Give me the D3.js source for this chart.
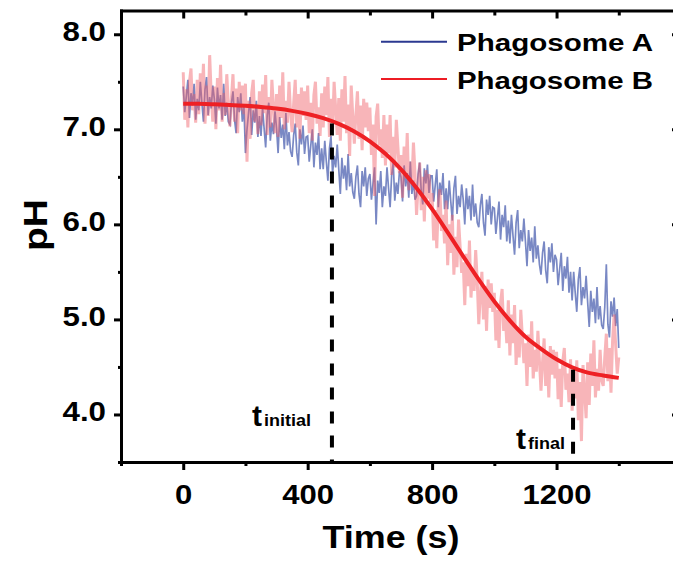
<!DOCTYPE html>
<html>
<head>
<meta charset="utf-8">
<script src="https://cdn.jsdelivr.net/npm/d3@7"></script>
<style>
  body { margin: 0; background: #fff; }
  svg text { font-family: "Liberation Sans", Arial, sans-serif; font-weight: bold; fill: #000; }
</style>
</head>
<body>
<svg id="chart"></svg>
<script>
// sample times (s), every 5 s
const sampleTimes = d3.range(0, 1405, 5);

// Phagosome A, raw pH trace
const phagoA = [
  7.45, 7.18, 7.35, 7.52, 7.12, 7.38, 7.25, 7.48, 7.10, 7.32,
  7.20, 7.50, 7.28, 7.08, 7.42, 7.55, 7.15, 7.34, 7.22, 7.46,
  7.32, 7.06, 7.44, 7.22, 7.36, 7.10, 7.48, 7.14, 7.28, 7.08,
  7.05, 7.28, 7.40, 7.10, 6.96, 7.34, 7.18, 7.38, 7.08, 7.26,
  6.75, 7.00, 7.17, 7.34, 6.94, 7.20, 7.07, 7.30, 6.92, 7.14,
  6.93, 7.23, 7.01, 6.81, 7.15, 7.28, 6.88, 7.07, 6.95, 7.19,
  7.01, 6.75, 7.13, 6.91, 7.05, 6.79, 7.17, 6.83, 6.97, 6.77,
  6.71, 6.94, 7.06, 6.76, 6.62, 7.00, 6.84, 7.04, 6.74, 6.92,
  6.93, 6.66, 6.83, 7.00, 6.60, 6.86, 6.73, 6.96, 6.58, 6.80,
  6.58, 6.88, 6.66, 6.46, 6.80, 6.93, 6.53, 6.72, 6.60, 6.84,
  6.58, 6.32, 6.70, 6.48, 6.62, 6.36, 6.74, 6.40, 6.54, 6.34,
  6.27, 6.50, 6.62, 6.32, 6.18, 6.56, 6.40, 6.60, 6.30, 6.48,
  6.53, 6.26, 6.43, 6.60, 6.00, 6.46, 6.33, 6.56, 6.18, 6.40,
  6.30, 6.60, 6.38, 6.18, 6.52, 6.65, 6.25, 6.44, 6.32, 6.56,
  6.50, 6.24, 6.62, 6.40, 6.54, 6.28, 6.66, 6.32, 6.46, 6.26,
  6.30, 6.53, 6.65, 6.35, 6.21, 6.59, 6.43, 6.63, 6.33, 6.51,
  6.51, 6.24, 6.41, 6.58, 6.18, 6.44, 6.31, 6.54, 6.16, 6.38,
  6.16, 6.46, 6.24, 6.04, 6.38, 6.51, 6.11, 6.30, 6.18, 6.42,
  6.26, 6.00, 6.38, 6.16, 6.30, 6.04, 6.42, 6.08, 6.22, 6.02,
  5.97, 6.20, 6.32, 6.02, 5.88, 6.26, 6.10, 6.30, 6.00, 6.18,
  6.17, 5.90, 6.07, 6.24, 5.84, 6.10, 5.97, 6.20, 5.82, 6.04,
  5.80, 6.10, 5.88, 5.68, 6.02, 6.15, 5.75, 5.94, 5.82, 6.06,
  5.82, 5.56, 5.94, 5.72, 5.86, 5.60, 5.98, 5.64, 5.78, 5.58,
  5.47, 5.70, 5.82, 5.52, 5.38, 5.76, 5.60, 5.80, 5.50, 5.68,
  5.63, 5.36, 5.53, 5.70, 5.30, 5.56, 5.43, 5.66, 5.28, 5.50,
  5.20, 5.50, 5.28, 5.08, 5.42, 5.55, 5.15, 5.34, 5.22, 5.46,
  5.18, 4.92, 5.30, 5.08, 5.22, 4.96, 5.34, 5.00, 5.14, 4.94,
  4.90, 5.13, 5.58, 4.95, 4.81, 5.19, 5.03, 5.23, 4.93, 5.11,
  4.70
];

// Phagosome B, raw pH trace
const phagoB = [
  7.60, 7.10, 7.42, 7.02, 7.50, 7.64, 7.20, 7.37, 7.07, 7.52,
  7.16, 7.59, 7.29, 7.69, 7.06, 7.46, 7.14, 7.78, 7.36, 7.08,
  7.45, 7.00, 7.54, 7.20, 7.68, 7.08, 7.38, 7.15, 7.58, 7.26,
  7.03, 7.33, 7.58, 7.08, 7.43, 6.96, 7.50, 7.20, 7.46, 7.16,
  7.48, 6.66, 7.30, 6.90, 7.38, 7.52, 7.08, 7.25, 6.95, 7.40,
  7.04, 7.47, 7.17, 7.57, 6.94, 7.34, 7.02, 7.52, 7.24, 6.96,
  7.37, 6.92, 7.46, 7.12, 7.60, 7.00, 7.30, 7.07, 7.50, 7.18,
  6.97, 7.27, 7.52, 7.02, 7.37, 6.90, 7.44, 7.14, 7.40, 7.10,
  7.46, 6.96, 7.28, 6.88, 7.36, 7.50, 7.06, 7.23, 6.93, 7.38,
  7.02, 7.45, 7.15, 7.55, 6.92, 7.32, 7.00, 7.50, 7.22, 6.94,
  7.33, 6.88, 7.42, 7.08, 7.56, 6.96, 7.26, 6.72, 7.46, 7.14,
  6.85, 7.15, 7.40, 6.90, 7.25, 6.78, 7.32, 7.02, 7.28, 6.98,
  7.23, 6.73, 7.05, 6.30, 7.13, 7.27, 6.83, 7.00, 6.70, 7.15,
  6.62, 7.05, 6.75, 7.15, 6.52, 6.92, 6.60, 7.10, 6.82, 6.54,
  6.73, 6.28, 6.82, 6.48, 6.96, 6.36, 6.66, 6.43, 6.86, 6.54,
  6.10, 6.40, 6.65, 6.15, 6.50, 6.03, 6.57, 6.27, 6.53, 6.23,
  6.33, 5.83, 6.15, 5.75, 6.23, 6.37, 5.93, 6.10, 5.80, 6.25,
  5.57, 6.00, 5.70, 6.10, 5.47, 5.87, 5.55, 6.05, 5.77, 5.49,
  5.60, 5.15, 5.69, 5.35, 5.83, 5.23, 5.53, 5.30, 5.73, 5.41,
  4.95, 5.25, 5.50, 5.00, 5.35, 4.88, 5.42, 5.12, 5.38, 5.08,
  5.28, 4.78, 5.10, 4.70, 5.18, 5.32, 4.88, 5.05, 4.75, 5.20,
  4.62, 5.05, 4.75, 5.15, 4.52, 4.92, 4.60, 5.10, 4.82, 4.54,
  4.75, 4.30, 4.84, 4.50, 4.98, 4.38, 4.68, 4.45, 4.88, 4.56,
  4.25, 4.55, 4.80, 4.30, 4.65, 4.18, 4.72, 4.42, 4.68, 4.38,
  4.66, 4.16, 4.48, 4.08, 4.56, 4.70, 4.26, 4.43, 4.13, 4.58,
  4.04, 4.47, 4.17, 4.57, 3.94, 4.34, 3.72, 4.52, 4.24, 3.96,
  4.55, 4.10, 4.64, 4.30, 4.78, 4.18, 4.48, 4.25, 4.68, 4.36,
  4.30, 4.60, 4.85, 4.35, 4.70, 4.23, 4.77, 5.05, 4.73, 4.43,
  4.60
];

// fitted curve for Phagosome B, every 50 s
const fitTimes = d3.range(0, 1450, 50);
const fitB = [
  7.27, 7.268, 7.263, 7.257, 7.248, 7.235, 7.218, 7.194, 7.161, 7.117,
  7.057, 6.978, 6.874, 6.742, 6.579, 6.383, 6.160, 5.916, 5.664, 5.418,
  5.189, 4.988, 4.818, 4.690, 4.580, 4.495, 4.440, 4.410, 4.385
];

const tInitial = 478;
const tFinal = 1253;

const xMajor = [0, 400, 800, 1200];
const xMinor = [-200, 200, 600, 1000, 1400];
const yMajor = [4, 5, 6, 7, 8];
const yMinor = [3.5, 4.5, 5.5, 6.5, 7.5];

const seriesNames = ["Phagosome A", "Phagosome B"];

const width = 673;
const height = 565;

const svg = d3.select("#chart").attr("width", width).attr("height", height);

const x = d3.scaleLinear().domain([-200, 1600]).range([121, 681]);
const y = d3.scaleLinear().domain([3.5, 8.25]).range([462, 10.5]);

const rawLine = (vals) =>
  d3.line()
    .x((d, i) => x(sampleTimes[i]))
    .y((d) => y(d))(vals);

// raw traces
svg.append("path")
  .attr("d", rawLine(phagoA))
  .attr("fill", "none")
  .attr("stroke", "#3a50a8")
  .attr("stroke-opacity", 0.68)
  .attr("stroke-width", 1.7);

svg.append("path")
  .attr("d", rawLine(phagoB))
  .attr("fill", "none")
  .attr("stroke", "#f05a64")
  .attr("stroke-opacity", 0.45)
  .attr("stroke-width", 3);

// fit
svg.append("path")
  .attr("d", d3.line()
    .x((d, i) => x(fitTimes[i]))
    .y((d) => y(d))
    .curve(d3.curveMonotoneX)(fitB))
  .attr("fill", "none")
  .attr("stroke", "#ee2024")
  .attr("stroke-width", 4);

// dashed markers
const fitAt = (t) => {
  const i = d3.bisectLeft(fitTimes, t);
  const t0 = fitTimes[i - 1], t1 = fitTimes[i];
  return fitB[i - 1] + (fitB[i] - fitB[i - 1]) * (t - t0) / (t1 - t0);
};
[tInitial, tFinal].forEach((t) => {
  svg.append("line")
    .attr("x1", x(t)).attr("x2", x(t))
    .attr("y1", y(fitAt(t)) + 2).attr("y2", y(3.5))
    .attr("stroke", "#000")
    .attr("stroke-width", 4)
    .attr("stroke-dasharray", "12,12");
});

// annotations
function tLabel(xs, base, sub, subLen) {
  svg.append("text").attr("x", xs).attr("y", base)
    .attr("font-size", 30).text("t");
  svg.append("text").attr("x", xs + 12).attr("y", base)
    .attr("font-size", 16)
    .attr("textLength", subLen).attr("lengthAdjust", "spacingAndGlyphs")
    .text(sub);
}
tLabel(252, 426, "initial", 47);
tLabel(516, 449, "final", 37);

// axes
function styleAxis(g) {
  g.select(".domain").attr("stroke-width", 3).attr("stroke-linecap", "square");
  g.selectAll(".tick line").attr("stroke-width", 3);
}

const gx = svg.append("g").attr("transform", `translate(0,${y(3.5)})`)
  .call(d3.axisBottom(x).tickValues(xMajor).tickSize(8).tickSizeOuter(0)
    .tickFormat(d3.format("d")));
styleAxis(gx);
gx.selectAll(".tick text")
  .attr("y", 42).attr("dy", null)
  .attr("font-size", 27)
  .attr("transform", "scale(1.15,1)")
  .style("font-family", '"Liberation Sans", Arial, sans-serif')
  .style("font-weight", "bold");

svg.append("g").attr("transform", `translate(0,${y(3.5)})`)
  .call(d3.axisBottom(x).tickValues(xMinor).tickSize(4).tickFormat(""))
  .call((g) => g.select(".domain").remove())
  .selectAll(".tick line").attr("stroke-width", 3);

const gy = svg.append("g").attr("transform", `translate(${x(-200)},0)`)
  .call(d3.axisLeft(y).tickValues(yMajor).tickSize(7).tickSizeOuter(0)
    .tickFormat(d3.format(".1f")));
styleAxis(gy);
gy.selectAll(".tick text")
  .attr("x", null).attr("dy", "0.23em")
  .attr("font-size", 27)
  .attr("transform", "translate(-15,0) scale(1.16,1)")
  .style("font-family", '"Liberation Sans", Arial, sans-serif')
  .style("font-weight", "bold");

svg.append("g").attr("transform", `translate(${x(-200)},0)`)
  .call(d3.axisLeft(y).tickValues(yMinor).tickSize(3).tickFormat(""))
  .call((g) => g.select(".domain").remove())
  .selectAll(".tick line").attr("stroke-width", 3);

// mirror axes (top / right), ticks inward
const gt = svg.append("g").attr("transform", `translate(0,${y(8.25)})`)
  .call(d3.axisBottom(x).tickValues(xMajor).tickSize(8).tickSizeOuter(0).tickFormat(""));
styleAxis(gt);
svg.append("g").attr("transform", `translate(0,${y(8.25)})`)
  .call(d3.axisBottom(x).tickValues(xMinor).tickSize(5).tickFormat(""))
  .call((g) => g.select(".domain").remove())
  .selectAll(".tick line").attr("stroke-width", 3);

const gr = svg.append("g").attr("transform", `translate(${x(1600)},0)`)
  .call(d3.axisLeft(y).tickValues(yMajor).tickSize(9).tickSizeOuter(0).tickFormat(""));
styleAxis(gr);

// axis titles
svg.append("text")
  .attr("x", 391).attr("y", 548)
  .attr("text-anchor", "middle")
  .attr("font-size", 31)
  .attr("textLength", 137).attr("lengthAdjust", "spacingAndGlyphs")
  .text("Time (s)");

svg.append("text")
  .attr("transform", "translate(47,225) rotate(-90)")
  .attr("text-anchor", "middle")
  .attr("font-size", 34)
  .attr("textLength", 52).attr("lengthAdjust", "spacingAndGlyphs")
  .text("pH");

// legend
const legendColors = ["#2b3990", "#ed1c24"];
const legendY = [41.7, 79];
const legend = svg.append("g");
legend.selectAll("line").data(seriesNames).join("line")
  .attr("x1", 381).attr("x2", 447)
  .attr("y1", (d, i) => legendY[i]).attr("y2", (d, i) => legendY[i])
  .attr("stroke", (d, i) => legendColors[i])
  .attr("stroke-width", 2);
legend.selectAll("text").data(seriesNames).join("text")
  .attr("x", 457).attr("y", (d, i) => legendY[i] + 9.5)
  .attr("font-size", 23)
  .attr("textLength", 196).attr("lengthAdjust", "spacingAndGlyphs")
  .text((d) => d);
</script>
</body>
</html>
